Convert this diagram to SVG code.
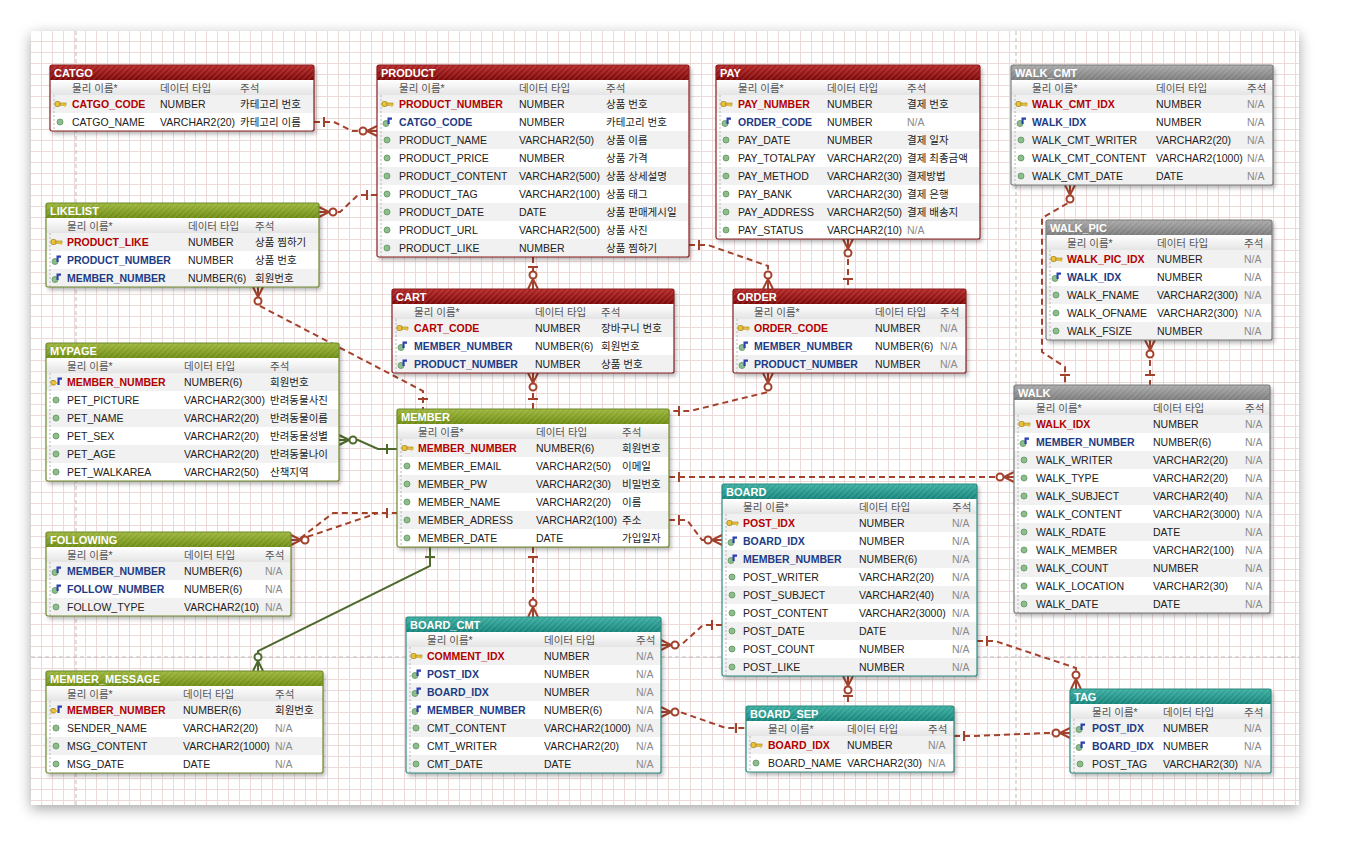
<svg xmlns="http://www.w3.org/2000/svg" width="1361" height="867" viewBox="0 0 1361 867">
<defs>
<style>
text{font-family:"Liberation Sans","Noto Sans CJK KR",sans-serif;font-size:10.5px;fill:#222}
.ttl{fill:#fff;font-weight:bold;font-size:11px}
.hd{fill:#555}
.pk{fill:#b10000;font-weight:bold}
.fk{fill:#1d3c84;font-weight:bold}
.na{fill:#8a8a8a}
.r0{fill:#f1f1f1}
.box{fill:#fff;filter:url(#sh)}
.ld{stroke:#b8b8b8;stroke-width:1;stroke-dasharray:2 2}
.bd{fill:none;stroke-width:1.2}
.red .bd{stroke:#8c2020}.red .tb{fill:url(#g-red)}
.grn .bd{stroke:#6f8a2e}.grn .tb{fill:url(#g-grn)}
.tea .bd{stroke:#2e8b82}.tea .tb{fill:url(#g-tea)}
.gry .bd{stroke:#7d7d7d}.gry .tb{fill:url(#g-gry)}
.hb{fill:url(#hatch)}
.hr{fill:url(#g-hdr)}
.cr{fill:none;stroke:#a3422c;stroke-width:2;stroke-dasharray:6 4}
.cg{fill:none;stroke:#4d6a2c;stroke-width:2}
.sr{stroke:#a3422c;stroke-width:2;fill:none}
.sg{stroke:#4d6a2c;stroke-width:2;fill:none}
.gd{stroke:#bdbdbd;stroke-width:1;stroke-dasharray:4 3;fill:none}
</style>
<filter id="sh" x="-10%" y="-10%" width="130%" height="130%"><feDropShadow dx="2" dy="3" stdDeviation="2" flood-color="#000" flood-opacity="0.3"/></filter>
<filter id="csh" x="-5%" y="-5%" width="110%" height="112%"><feDropShadow dx="0" dy="4" stdDeviation="7" flood-color="#000" flood-opacity="0.35"/></filter>
<pattern id="grid" x="31" y="31" width="11" height="11" patternUnits="userSpaceOnUse"><path d="M10.5,0 V11 M0,10.5 H11" stroke="#eed9d9" stroke-width="1" fill="none"/></pattern>
<pattern id="hatch" width="4" height="4" patternUnits="userSpaceOnUse" patternTransform="rotate(45)"><rect width="1.5" height="4" fill="#fff" fill-opacity="0.13"/></pattern>
<linearGradient id="g-red" x1="0" y1="0" x2="0" y2="1"><stop offset="0" stop-color="#b32525"/><stop offset="1" stop-color="#7c0505"/></linearGradient>
<linearGradient id="g-grn" x1="0" y1="0" x2="0" y2="1"><stop offset="0" stop-color="#9cb53a"/><stop offset="1" stop-color="#6c8a10"/></linearGradient>
<linearGradient id="g-tea" x1="0" y1="0" x2="0" y2="1"><stop offset="0" stop-color="#3aada0"/><stop offset="1" stop-color="#14837a"/></linearGradient>
<linearGradient id="g-gry" x1="0" y1="0" x2="0" y2="1"><stop offset="0" stop-color="#a8a8a8"/><stop offset="1" stop-color="#7a7a7a"/></linearGradient>
<linearGradient id="g-hdr" x1="0" y1="0" x2="0" y2="1"><stop offset="0" stop-color="#ffffff"/><stop offset="1" stop-color="#e4e4e4"/></linearGradient>
<g id="ic-key"><rect x="-5" y="-2.5" width="5" height="5" rx="1.5" fill="#e9c23a" stroke="#a3841c" stroke-width="0.8"/><rect x="0" y="-1" width="6" height="2.2" fill="#e9c23a" stroke="#a3841c" stroke-width="0.6"/><rect x="4" y="0.8" width="1.6" height="2" fill="#e9c23a"/></g>
<g id="ic-col"><circle r="3" fill="#8dbd8d" stroke="#5e935e" stroke-width="0.8"/></g>
<g id="ic-fk"><circle cx="-1" cy="1.5" r="3" fill="#8dbd8d" stroke="#5e935e" stroke-width="0.8"/><path d="M0.5,-4.5 H5 V-2.3 H2.6 V2 H0.5 Z" fill="#2b3fae"/></g>
<g id="ic-pkfk"><rect x="-5" y="-1.5" width="4.5" height="4.5" rx="1.2" fill="#e9c23a" stroke="#a3841c" stroke-width="0.8"/><rect x="-1" y="0" width="4" height="2" fill="#e9c23a"/><path d="M1.5,-4.5 H6 V-2.3 H3.6 V3 H1.5 Z" fill="#2b3fae"/></g>
<g id="mo"><path d="M-10,0 L0,-5 M-10,0 L0,0 M-10,0 L0,5"/><circle cx="-14" cy="0" r="3.5" fill="#fff"/></g>
<g id="one"><path d="M-10,-5 V5"/></g>
</defs>

<rect width="1361" height="867" fill="#fff"/>
<rect x="31" y="31" width="1268" height="774" fill="#fff" filter="url(#csh)"/>
<rect x="31" y="31" width="1268" height="774" fill="url(#grid)"/>
<path class="gd" d="M76,31 V805 M1016,31 V805 M31,657 H1299"/>

<g id="connectors">
<path class="cr" d="M314,122 H334 L352,131 H377"/>
<use href="#one" class="sr" transform="translate(314,122) rotate(180)"/>
<use href="#mo" class="sr" transform="translate(377,131)"/>

<path class="cr" d="M377,195 H358 L340,212 H319"/>
<use href="#one" class="sr" transform="translate(377,195)"/>
<use href="#mo" class="sr" transform="translate(319,212) rotate(180)"/>

<path class="cr" d="M258,287 V305 L423,391 V409"/>
<use href="#mo" class="sr" transform="translate(258,287) rotate(-90)"/>
<use href="#one" class="sr" transform="translate(423,409) rotate(90)"/>

<path class="cr" d="M533,257 V289"/>
<use href="#one" class="sr" transform="translate(533,257) rotate(-90)"/>
<use href="#mo" class="sr" transform="translate(533,289) rotate(90)"/>

<path class="cr" d="M689,245 H708 L768,266 V289"/>
<use href="#one" class="sr" transform="translate(689,245) rotate(180)"/>
<use href="#mo" class="sr" transform="translate(768,289) rotate(90)"/>

<path class="cr" d="M848,239 V289"/>
<use href="#mo" class="sr" transform="translate(848,239) rotate(-90)"/>
<use href="#one" class="sr" transform="translate(848,289) rotate(90)"/>

<path class="cr" d="M533,373 V409"/>
<use href="#mo" class="sr" transform="translate(533,373) rotate(-90)"/>
<use href="#one" class="sr" transform="translate(533,409) rotate(90)"/>

<path class="cr" d="M768,373 V392 L690,411 H669"/>
<use href="#mo" class="sr" transform="translate(768,373) rotate(-90)"/>
<use href="#one" class="sr" transform="translate(669,411) rotate(180)"/>

<path class="cg" d="M339,440 H358 L378,449 H397"/>
<use href="#mo" class="sg" transform="translate(339,440) rotate(180)"/>
<use href="#one" class="sg" transform="translate(397,449)"/>

<path class="cr" d="M291,540 H298 L333,513 H397"/>
<path class="cr" d="M298,540 L378,513"/>
<use href="#mo" class="sr" transform="translate(291,540) rotate(180)"/>
<use href="#one" class="sr" transform="translate(397,513)"/>

<path class="cg" d="M430,547 V566 L258,651 V671"/>
<use href="#one" class="sg" transform="translate(430,547) rotate(-90)"/>
<use href="#mo" class="sg" transform="translate(258,671) rotate(90)"/>

<path class="cr" d="M533,547 V617"/>
<use href="#one" class="sr" transform="translate(533,547) rotate(-90)"/>
<use href="#mo" class="sr" transform="translate(533,617) rotate(90)"/>

<path class="cr" d="M669,477 H1014"/>
<use href="#one" class="sr" transform="translate(669,477) rotate(180)"/>
<use href="#mo" class="sr" transform="translate(1014,477)"/>

<path class="cr" d="M669,520 H687 L702,540 H722"/>
<use href="#one" class="sr" transform="translate(669,520) rotate(180)"/>
<use href="#mo" class="sr" transform="translate(722,540)"/>

<path class="cr" d="M722,625 H703 L681,645 H661"/>
<use href="#one" class="sr" transform="translate(722,625)"/>
<use href="#mo" class="sr" transform="translate(661,645) rotate(180)"/>

<path class="cr" d="M848,676 V706"/>
<use href="#mo" class="sr" transform="translate(848,676) rotate(-90)"/>
<use href="#one" class="sr" transform="translate(848,706) rotate(90)"/>

<path class="cr" d="M977,641 H995 L1076,668 V689"/>
<use href="#one" class="sr" transform="translate(977,641) rotate(180)"/>
<use href="#mo" class="sr" transform="translate(1076,689) rotate(90)"/>

<path class="cr" d="M661,712 H680 L726,728 H746"/>
<use href="#mo" class="sr" transform="translate(661,712) rotate(180)"/>
<use href="#one" class="sr" transform="translate(746,728)"/>

<path class="cr" d="M954,736 H975 L1045,733 H1070"/>
<use href="#one" class="sr" transform="translate(954,736) rotate(180)"/>
<use href="#mo" class="sr" transform="translate(1070,733)"/>

<path class="cr" d="M1070,185 V202 L1042,218 V352 L1065,367 V385"/>
<use href="#mo" class="sr" transform="translate(1070,185) rotate(-90)"/>
<use href="#one" class="sr" transform="translate(1065,385) rotate(90)"/>

<path class="cr" d="M1150,340 V385"/>
<use href="#mo" class="sr" transform="translate(1150,340) rotate(-90)"/>
<use href="#one" class="sr" transform="translate(1150,385) rotate(90)"/>
</g>

<!-- CATGO -->
<g id="CATGO" class="red" transform="translate(50,65)">
<rect class="box" width="264" height="66"/>
<rect class="tb" width="264" height="15"/><rect class="hb" width="264" height="15"/>
<text class="ttl" x="4" y="12">CATGO</text>
<rect class="hr" y="15" width="264" height="15"/>
<text class="hd" x="22" y="27">물리 이름*</text><text class="hd" x="110" y="27">데이터 타입</text><text class="hd" x="190" y="27">주석</text>
<rect class="r0" y="30" width="264" height="18"/>
<line class="ld" x1="4" y1="30" x2="4" y2="66"/>
<use href="#ic-key" x="10" y="39"/><text class="pk" x="22" y="43">CATGO_CODE</text><text x="110" y="43">NUMBER</text><text x="190" y="43">카테고리 번호</text>
<use href="#ic-col" x="10" y="57"/><text x="22" y="61">CATGO_NAME</text><text x="110" y="61">VARCHAR2(20)</text><text x="190" y="61">카테고리 이름</text>
<rect class="bd" width="264" height="66" rx="2"/>
</g>

<!-- PRODUCT -->
<g id="PRODUCT" class="red" transform="translate(377,65)">
<rect class="box" width="312" height="192"/>
<rect class="tb" width="312" height="15"/><rect class="hb" width="312" height="15"/>
<text class="ttl" x="4" y="12">PRODUCT</text>
<rect class="hr" y="15" width="312" height="15"/>
<text class="hd" x="22" y="27">물리 이름*</text><text class="hd" x="142" y="27">데이터 타입</text><text class="hd" x="229" y="27">주석</text>
<rect class="r0" y="30" width="312" height="18"/><rect class="r0" y="66" width="312" height="18"/><rect class="r0" y="102" width="312" height="18"/><rect class="r0" y="138" width="312" height="18"/><rect class="r0" y="174" width="312" height="18"/>
<line class="ld" x1="4" y1="30" x2="4" y2="192"/>
<use href="#ic-key" x="10" y="39"/><text class="pk" x="22" y="43">PRODUCT_NUMBER</text><text x="142" y="43">NUMBER</text><text x="229" y="43">상품 번호</text>
<use href="#ic-fk" x="10" y="57"/><text class="fk" x="22" y="61">CATGO_CODE</text><text x="142" y="61">NUMBER</text><text x="229" y="61">카테고리 번호</text>
<use href="#ic-col" x="10" y="75"/><text x="22" y="79">PRODUCT_NAME</text><text x="142" y="79">VARCHAR2(50)</text><text x="229" y="79">상품 이름</text>
<use href="#ic-col" x="10" y="93"/><text x="22" y="97">PRODUCT_PRICE</text><text x="142" y="97">NUMBER</text><text x="229" y="97">상품 가격</text>
<use href="#ic-col" x="10" y="111"/><text x="22" y="115">PRODUCT_CONTENT</text><text x="142" y="115">VARCHAR2(500)</text><text x="229" y="115">상품 상세설명</text>
<use href="#ic-col" x="10" y="129"/><text x="22" y="133">PRODUCT_TAG</text><text x="142" y="133">VARCHAR2(100)</text><text x="229" y="133">상품 태그</text>
<use href="#ic-col" x="10" y="147"/><text x="22" y="151">PRODUCT_DATE</text><text x="142" y="151">DATE</text><text x="229" y="151">상품 판매게시일</text>
<use href="#ic-col" x="10" y="165"/><text x="22" y="169">PRODUCT_URL</text><text x="142" y="169">VARCHAR2(500)</text><text x="229" y="169">상품 사진</text>
<use href="#ic-col" x="10" y="183"/><text x="22" y="187">PRODUCT_LIKE</text><text x="142" y="187">NUMBER</text><text x="229" y="187">상품 찜하기</text>
<rect class="bd" width="312" height="192" rx="2"/>
</g>

<!-- PAY -->
<g id="PAY" class="red" transform="translate(716,65)">
<rect class="box" width="264" height="174"/>
<rect class="tb" width="264" height="15"/><rect class="hb" width="264" height="15"/>
<text class="ttl" x="4" y="12">PAY</text>
<rect class="hr" y="15" width="264" height="15"/>
<text class="hd" x="22" y="27">물리 이름*</text><text class="hd" x="111" y="27">데이터 타입</text><text class="hd" x="191" y="27">주석</text>
<rect class="r0" y="30" width="264" height="18"/><rect class="r0" y="66" width="264" height="18"/><rect class="r0" y="102" width="264" height="18"/><rect class="r0" y="138" width="264" height="18"/>
<line class="ld" x1="4" y1="30" x2="4" y2="174"/>
<use href="#ic-key" x="10" y="39"/><text class="pk" x="22" y="43">PAY_NUMBER</text><text x="111" y="43">NUMBER</text><text x="191" y="43">결제 번호</text>
<use href="#ic-fk" x="10" y="57"/><text class="fk" x="22" y="61">ORDER_CODE</text><text x="111" y="61">NUMBER</text><text class="na" x="191" y="61">N/A</text>
<use href="#ic-col" x="10" y="75"/><text x="22" y="79">PAY_DATE</text><text x="111" y="79">NUMBER</text><text x="191" y="79">결제 일자</text>
<use href="#ic-col" x="10" y="93"/><text x="22" y="97">PAY_TOTALPAY</text><text x="111" y="97">VARCHAR2(20)</text><text x="191" y="97">결제 최종금액</text>
<use href="#ic-col" x="10" y="111"/><text x="22" y="115">PAY_METHOD</text><text x="111" y="115">VARCHAR2(30)</text><text x="191" y="115">결제방법</text>
<use href="#ic-col" x="10" y="129"/><text x="22" y="133">PAY_BANK</text><text x="111" y="133">VARCHAR2(30)</text><text x="191" y="133">결제 은행</text>
<use href="#ic-col" x="10" y="147"/><text x="22" y="151">PAY_ADDRESS</text><text x="111" y="151">VARCHAR2(50)</text><text x="191" y="151">결제 배송지</text>
<use href="#ic-col" x="10" y="165"/><text x="22" y="169">PAY_STATUS</text><text x="111" y="169">VARCHAR2(10)</text><text class="na" x="191" y="169">N/A</text>
<rect class="bd" width="264" height="174" rx="2"/>
</g>

<!-- WALK_CMT -->
<g id="WALK_CMT" class="gry" transform="translate(1011,65)">
<rect class="box" width="262" height="120"/>
<rect class="tb" width="262" height="15"/><rect class="hb" width="262" height="15"/>
<text class="ttl" x="4" y="12">WALK_CMT</text>
<rect class="hr" y="15" width="262" height="15"/>
<text class="hd" x="21" y="27">물리 이름*</text><text class="hd" x="145" y="27">데이터 타입</text><text class="hd" x="236" y="27">주석</text>
<rect class="r0" y="30" width="262" height="18"/><rect class="r0" y="66" width="262" height="18"/><rect class="r0" y="102" width="262" height="18"/>
<line class="ld" x1="4" y1="30" x2="4" y2="120"/>
<use href="#ic-key" x="10" y="39"/><text class="pk" x="21" y="43">WALK_CMT_IDX</text><text x="145" y="43">NUMBER</text><text class="na" x="236" y="43">N/A</text>
<use href="#ic-fk" x="10" y="57"/><text class="fk" x="21" y="61">WALK_IDX</text><text x="145" y="61">NUMBER</text><text class="na" x="236" y="61">N/A</text>
<use href="#ic-col" x="10" y="75"/><text x="21" y="79">WALK_CMT_WRITER</text><text x="145" y="79">VARCHAR2(20)</text><text class="na" x="236" y="79">N/A</text>
<use href="#ic-col" x="10" y="93"/><text x="21" y="97">WALK_CMT_CONTENT</text><text x="145" y="97">VARCHAR2(1000)</text><text class="na" x="236" y="97">N/A</text>
<use href="#ic-col" x="10" y="111"/><text x="21" y="115">WALK_CMT_DATE</text><text x="145" y="115">DATE</text><text class="na" x="236" y="115">N/A</text>
<rect class="bd" width="262" height="120" rx="2"/>
</g>

<!-- LIKELIST -->
<g id="LIKELIST" class="grn" transform="translate(46,203)">
<rect class="box" width="273" height="84"/>
<rect class="tb" width="273" height="15"/><rect class="hb" width="273" height="15"/>
<text class="ttl" x="4" y="12">LIKELIST</text>
<rect class="hr" y="15" width="273" height="15"/>
<text class="hd" x="21" y="27">물리 이름*</text><text class="hd" x="142" y="27">데이터 타입</text><text class="hd" x="209" y="27">주석</text>
<rect class="r0" y="30" width="273" height="18"/><rect class="r0" y="66" width="273" height="18"/>
<line class="ld" x1="4" y1="30" x2="4" y2="84"/>
<use href="#ic-key" x="10" y="39"/><text class="pk" x="21" y="43">PRODUCT_LIKE</text><text x="142" y="43">NUMBER</text><text x="209" y="43">상품 찜하기</text>
<use href="#ic-fk" x="10" y="57"/><text class="fk" x="21" y="61">PRODUCT_NUMBER</text><text x="142" y="61">NUMBER</text><text x="209" y="61">상품 번호</text>
<use href="#ic-fk" x="10" y="75"/><text class="fk" x="21" y="79">MEMBER_NUMBER</text><text x="142" y="79">NUMBER(6)</text><text x="209" y="79">회원번호</text>
<rect class="bd" width="273" height="84" rx="2"/>
</g>

<!-- WALK_PIC -->
<g id="WALK_PIC" class="gry" transform="translate(1046,220)">
<rect class="box" width="226" height="120"/>
<rect class="tb" width="226" height="15"/><rect class="hb" width="226" height="15"/>
<text class="ttl" x="4" y="12">WALK_PIC</text>
<rect class="hr" y="15" width="226" height="15"/>
<text class="hd" x="21" y="27">물리 이름*</text><text class="hd" x="111" y="27">데이터 타입</text><text class="hd" x="198" y="27">주석</text>
<rect class="r0" y="30" width="226" height="18"/><rect class="r0" y="66" width="226" height="18"/><rect class="r0" y="102" width="226" height="18"/>
<line class="ld" x1="4" y1="30" x2="4" y2="120"/>
<use href="#ic-key" x="10" y="39"/><text class="pk" x="21" y="43">WALK_PIC_IDX</text><text x="111" y="43">NUMBER</text><text class="na" x="198" y="43">N/A</text>
<use href="#ic-fk" x="10" y="57"/><text class="fk" x="21" y="61">WALK_IDX</text><text x="111" y="61">NUMBER</text><text class="na" x="198" y="61">N/A</text>
<use href="#ic-col" x="10" y="75"/><text x="21" y="79">WALK_FNAME</text><text x="111" y="79">VARCHAR2(300)</text><text class="na" x="198" y="79">N/A</text>
<use href="#ic-col" x="10" y="93"/><text x="21" y="97">WALK_OFNAME</text><text x="111" y="97">VARCHAR2(300)</text><text class="na" x="198" y="97">N/A</text>
<use href="#ic-col" x="10" y="111"/><text x="21" y="115">WALK_FSIZE</text><text x="111" y="115">NUMBER</text><text class="na" x="198" y="115">N/A</text>
<rect class="bd" width="226" height="120" rx="2"/>
</g>

<!-- CART -->
<g id="CART" class="red" transform="translate(392,289)">
<rect class="box" width="282" height="84"/>
<rect class="tb" width="282" height="15"/><rect class="hb" width="282" height="15"/>
<text class="ttl" x="4" y="12">CART</text>
<rect class="hr" y="15" width="282" height="15"/>
<text class="hd" x="22" y="27">물리 이름*</text><text class="hd" x="143" y="27">데이터 타입</text><text class="hd" x="209" y="27">주석</text>
<rect class="r0" y="30" width="282" height="18"/><rect class="r0" y="66" width="282" height="18"/>
<line class="ld" x1="4" y1="30" x2="4" y2="84"/>
<use href="#ic-key" x="10" y="39"/><text class="pk" x="22" y="43">CART_CODE</text><text x="143" y="43">NUMBER</text><text x="209" y="43">장바구니 번호</text>
<use href="#ic-fk" x="10" y="57"/><text class="fk" x="22" y="61">MEMBER_NUMBER</text><text x="143" y="61">NUMBER(6)</text><text x="209" y="61">회원번호</text>
<use href="#ic-fk" x="10" y="75"/><text class="fk" x="22" y="79">PRODUCT_NUMBER</text><text x="143" y="79">NUMBER</text><text x="209" y="79">상품 번호</text>
<rect class="bd" width="282" height="84" rx="2"/>
</g>

<!-- ORDER -->
<g id="ORDER" class="red" transform="translate(733,289)">
<rect class="box" width="233" height="84"/>
<rect class="tb" width="233" height="15"/><rect class="hb" width="233" height="15"/>
<text class="ttl" x="4" y="12">ORDER</text>
<rect class="hr" y="15" width="233" height="15"/>
<text class="hd" x="21" y="27">물리 이름*</text><text class="hd" x="142" y="27">데이터 타입</text><text class="hd" x="207" y="27">주석</text>
<rect class="r0" y="30" width="233" height="18"/><rect class="r0" y="66" width="233" height="18"/>
<line class="ld" x1="4" y1="30" x2="4" y2="84"/>
<use href="#ic-key" x="10" y="39"/><text class="pk" x="21" y="43">ORDER_CODE</text><text x="142" y="43">NUMBER</text><text class="na" x="207" y="43">N/A</text>
<use href="#ic-fk" x="10" y="57"/><text class="fk" x="21" y="61">MEMBER_NUMBER</text><text x="142" y="61">NUMBER(6)</text><text class="na" x="207" y="61">N/A</text>
<use href="#ic-fk" x="10" y="75"/><text class="fk" x="21" y="79">PRODUCT_NUMBER</text><text x="142" y="79">NUMBER</text><text class="na" x="207" y="79">N/A</text>
<rect class="bd" width="233" height="84" rx="2"/>
</g>

<!-- MYPAGE -->
<g id="MYPAGE" class="grn" transform="translate(46,343)">
<rect class="box" width="293" height="138"/>
<rect class="tb" width="293" height="15"/><rect class="hb" width="293" height="15"/>
<text class="ttl" x="4" y="12">MYPAGE</text>
<rect class="hr" y="15" width="293" height="15"/>
<text class="hd" x="21" y="27">물리 이름*</text><text class="hd" x="138" y="27">데이터 타입</text><text class="hd" x="224" y="27">주석</text>
<rect class="r0" y="30" width="293" height="18"/><rect class="r0" y="66" width="293" height="18"/><rect class="r0" y="102" width="293" height="18"/>
<line class="ld" x1="4" y1="30" x2="4" y2="138"/>
<use href="#ic-pkfk" x="10" y="39"/><text class="pk" x="21" y="43">MEMBER_NUMBER</text><text x="138" y="43">NUMBER(6)</text><text x="224" y="43">회원번호</text>
<use href="#ic-col" x="10" y="57"/><text x="21" y="61">PET_PICTURE</text><text x="138" y="61">VARCHAR2(300)</text><text x="224" y="61">반려동물사진</text>
<use href="#ic-col" x="10" y="75"/><text x="21" y="79">PET_NAME</text><text x="138" y="79">VARCHAR2(20)</text><text x="224" y="79">반려동물이름</text>
<use href="#ic-col" x="10" y="93"/><text x="21" y="97">PET_SEX</text><text x="138" y="97">VARCHAR2(20)</text><text x="224" y="97">반려동물성별</text>
<use href="#ic-col" x="10" y="111"/><text x="21" y="115">PET_AGE</text><text x="138" y="115">VARCHAR2(20)</text><text x="224" y="115">반려동물나이</text>
<use href="#ic-col" x="10" y="129"/><text x="21" y="133">PET_WALKAREA</text><text x="138" y="133">VARCHAR2(50)</text><text x="224" y="133">산책지역</text>
<rect class="bd" width="293" height="138" rx="2"/>
</g>

<!-- WALK -->
<g id="WALK" class="gry" transform="translate(1014,385)">
<rect class="box" width="256" height="228"/>
<rect class="tb" width="256" height="15"/><rect class="hb" width="256" height="15"/>
<text class="ttl" x="4" y="12">WALK</text>
<rect class="hr" y="15" width="256" height="15"/>
<text class="hd" x="22" y="27">물리 이름*</text><text class="hd" x="139" y="27">데이터 타입</text><text class="hd" x="231" y="27">주석</text>
<rect class="r0" y="30" width="256" height="18"/><rect class="r0" y="66" width="256" height="18"/><rect class="r0" y="102" width="256" height="18"/><rect class="r0" y="138" width="256" height="18"/><rect class="r0" y="174" width="256" height="18"/><rect class="r0" y="210" width="256" height="18"/>
<line class="ld" x1="4" y1="30" x2="4" y2="228"/>
<use href="#ic-key" x="10" y="39"/><text class="pk" x="22" y="43">WALK_IDX</text><text x="139" y="43">NUMBER</text><text class="na" x="231" y="43">N/A</text>
<use href="#ic-fk" x="10" y="57"/><text class="fk" x="22" y="61">MEMBER_NUMBER</text><text x="139" y="61">NUMBER(6)</text><text class="na" x="231" y="61">N/A</text>
<use href="#ic-col" x="10" y="75"/><text x="22" y="79">WALK_WRITER</text><text x="139" y="79">VARCHAR2(20)</text><text class="na" x="231" y="79">N/A</text>
<use href="#ic-col" x="10" y="93"/><text x="22" y="97">WALK_TYPE</text><text x="139" y="97">VARCHAR2(20)</text><text class="na" x="231" y="97">N/A</text>
<use href="#ic-col" x="10" y="111"/><text x="22" y="115">WALK_SUBJECT</text><text x="139" y="115">VARCHAR2(40)</text><text class="na" x="231" y="115">N/A</text>
<use href="#ic-col" x="10" y="129"/><text x="22" y="133">WALK_CONTENT</text><text x="139" y="133">VARCHAR2(3000)</text><text class="na" x="231" y="133">N/A</text>
<use href="#ic-col" x="10" y="147"/><text x="22" y="151">WALK_RDATE</text><text x="139" y="151">DATE</text><text class="na" x="231" y="151">N/A</text>
<use href="#ic-col" x="10" y="165"/><text x="22" y="169">WALK_MEMBER</text><text x="139" y="169">VARCHAR2(100)</text><text class="na" x="231" y="169">N/A</text>
<use href="#ic-col" x="10" y="183"/><text x="22" y="187">WALK_COUNT</text><text x="139" y="187">NUMBER</text><text class="na" x="231" y="187">N/A</text>
<use href="#ic-col" x="10" y="201"/><text x="22" y="205">WALK_LOCATION</text><text x="139" y="205">VARCHAR2(30)</text><text class="na" x="231" y="205">N/A</text>
<use href="#ic-col" x="10" y="219"/><text x="22" y="223">WALK_DATE</text><text x="139" y="223">DATE</text><text class="na" x="231" y="223">N/A</text>
<rect class="bd" width="256" height="228" rx="2"/>
</g>

<!-- MEMBER -->
<g id="MEMBER" class="grn" transform="translate(397,409)">
<rect class="box" width="272" height="138"/>
<rect class="tb" width="272" height="15"/><rect class="hb" width="272" height="15"/>
<text class="ttl" x="4" y="12">MEMBER</text>
<rect class="hr" y="15" width="272" height="15"/>
<text class="hd" x="21" y="27">물리 이름*</text><text class="hd" x="139" y="27">데이터 타입</text><text class="hd" x="225" y="27">주석</text>
<rect class="r0" y="30" width="272" height="18"/><rect class="r0" y="66" width="272" height="18"/><rect class="r0" y="102" width="272" height="18"/>
<line class="ld" x1="4" y1="30" x2="4" y2="138"/>
<use href="#ic-key" x="10" y="39"/><text class="pk" x="21" y="43">MEMBER_NUMBER</text><text x="139" y="43">NUMBER(6)</text><text x="225" y="43">회원번호</text>
<use href="#ic-col" x="10" y="57"/><text x="21" y="61">MEMBER_EMAIL</text><text x="139" y="61">VARCHAR2(50)</text><text x="225" y="61">이메일</text>
<use href="#ic-col" x="10" y="75"/><text x="21" y="79">MEMBER_PW</text><text x="139" y="79">VARCHAR2(30)</text><text x="225" y="79">비밀번호</text>
<use href="#ic-col" x="10" y="93"/><text x="21" y="97">MEMBER_NAME</text><text x="139" y="97">VARCHAR2(20)</text><text x="225" y="97">이름</text>
<use href="#ic-col" x="10" y="111"/><text x="21" y="115">MEMBER_ADRESS</text><text x="139" y="115">VARCHAR2(100)</text><text x="225" y="115">주소</text>
<use href="#ic-col" x="10" y="129"/><text x="21" y="133">MEMBER_DATE</text><text x="139" y="133">DATE</text><text x="225" y="133">가입일자</text>
<rect class="bd" width="272" height="138" rx="2"/>
</g>

<!-- BOARD -->
<g id="BOARD" class="tea" transform="translate(722,484)">
<rect class="box" width="255" height="192"/>
<rect class="tb" width="255" height="15"/><rect class="hb" width="255" height="15"/>
<text class="ttl" x="4" y="12">BOARD</text>
<rect class="hr" y="15" width="255" height="15"/>
<text class="hd" x="21" y="27">물리 이름*</text><text class="hd" x="137" y="27">데이터 타입</text><text class="hd" x="230" y="27">주석</text>
<rect class="r0" y="30" width="255" height="18"/><rect class="r0" y="66" width="255" height="18"/><rect class="r0" y="102" width="255" height="18"/><rect class="r0" y="138" width="255" height="18"/><rect class="r0" y="174" width="255" height="18"/>
<line class="ld" x1="4" y1="30" x2="4" y2="192"/>
<use href="#ic-key" x="10" y="39"/><text class="pk" x="21" y="43">POST_IDX</text><text x="137" y="43">NUMBER</text><text class="na" x="230" y="43">N/A</text>
<use href="#ic-fk" x="10" y="57"/><text class="fk" x="21" y="61">BOARD_IDX</text><text x="137" y="61">NUMBER</text><text class="na" x="230" y="61">N/A</text>
<use href="#ic-fk" x="10" y="75"/><text class="fk" x="21" y="79">MEMBER_NUMBER</text><text x="137" y="79">NUMBER(6)</text><text class="na" x="230" y="79">N/A</text>
<use href="#ic-col" x="10" y="93"/><text x="21" y="97">POST_WRITER</text><text x="137" y="97">VARCHAR2(20)</text><text class="na" x="230" y="97">N/A</text>
<use href="#ic-col" x="10" y="111"/><text x="21" y="115">POST_SUBJECT</text><text x="137" y="115">VARCHAR2(40)</text><text class="na" x="230" y="115">N/A</text>
<use href="#ic-col" x="10" y="129"/><text x="21" y="133">POST_CONTENT</text><text x="137" y="133">VARCHAR2(3000)</text><text class="na" x="230" y="133">N/A</text>
<use href="#ic-col" x="10" y="147"/><text x="21" y="151">POST_DATE</text><text x="137" y="151">DATE</text><text class="na" x="230" y="151">N/A</text>
<use href="#ic-col" x="10" y="165"/><text x="21" y="169">POST_COUNT</text><text x="137" y="169">NUMBER</text><text class="na" x="230" y="169">N/A</text>
<use href="#ic-col" x="10" y="183"/><text x="21" y="187">POST_LIKE</text><text x="137" y="187">NUMBER</text><text class="na" x="230" y="187">N/A</text>
<rect class="bd" width="255" height="192" rx="2"/>
</g>

<!-- FOLLOWING -->
<g id="FOLLOWING" class="grn" transform="translate(46,532)">
<rect class="box" width="245" height="84"/>
<rect class="tb" width="245" height="15"/><rect class="hb" width="245" height="15"/>
<text class="ttl" x="4" y="12">FOLLOWING</text>
<rect class="hr" y="15" width="245" height="15"/>
<text class="hd" x="21" y="27">물리 이름*</text><text class="hd" x="138" y="27">데이터 타입</text><text class="hd" x="219" y="27">주석</text>
<rect class="r0" y="30" width="245" height="18"/><rect class="r0" y="66" width="245" height="18"/>
<line class="ld" x1="4" y1="30" x2="4" y2="84"/>
<use href="#ic-fk" x="10" y="39"/><text class="fk" x="21" y="43">MEMBER_NUMBER</text><text x="138" y="43">NUMBER(6)</text><text class="na" x="219" y="43">N/A</text>
<use href="#ic-fk" x="10" y="57"/><text class="fk" x="21" y="61">FOLLOW_NUMBER</text><text x="138" y="61">NUMBER(6)</text><text class="na" x="219" y="61">N/A</text>
<use href="#ic-col" x="10" y="75"/><text x="21" y="79">FOLLOW_TYPE</text><text x="138" y="79">VARCHAR2(10)</text><text class="na" x="219" y="79">N/A</text>
<rect class="bd" width="245" height="84" rx="2"/>
</g>

<!-- BOARD_CMT -->
<g id="BOARD_CMT" class="tea" transform="translate(406,617)">
<rect class="box" width="255" height="156"/>
<rect class="tb" width="255" height="15"/><rect class="hb" width="255" height="15"/>
<text class="ttl" x="4" y="12">BOARD_CMT</text>
<rect class="hr" y="15" width="255" height="15"/>
<text class="hd" x="21" y="27">물리 이름*</text><text class="hd" x="138" y="27">데이터 타입</text><text class="hd" x="230" y="27">주석</text>
<rect class="r0" y="30" width="255" height="18"/><rect class="r0" y="66" width="255" height="18"/><rect class="r0" y="102" width="255" height="18"/><rect class="r0" y="138" width="255" height="18"/>
<line class="ld" x1="4" y1="30" x2="4" y2="156"/>
<use href="#ic-key" x="10" y="39"/><text class="pk" x="21" y="43">COMMENT_IDX</text><text x="138" y="43">NUMBER</text><text class="na" x="230" y="43">N/A</text>
<use href="#ic-fk" x="10" y="57"/><text class="fk" x="21" y="61">POST_IDX</text><text x="138" y="61">NUMBER</text><text class="na" x="230" y="61">N/A</text>
<use href="#ic-fk" x="10" y="75"/><text class="fk" x="21" y="79">BOARD_IDX</text><text x="138" y="79">NUMBER</text><text class="na" x="230" y="79">N/A</text>
<use href="#ic-fk" x="10" y="93"/><text class="fk" x="21" y="97">MEMBER_NUMBER</text><text x="138" y="97">NUMBER(6)</text><text class="na" x="230" y="97">N/A</text>
<use href="#ic-col" x="10" y="111"/><text x="21" y="115">CMT_CONTENT</text><text x="138" y="115">VARCHAR2(1000)</text><text class="na" x="230" y="115">N/A</text>
<use href="#ic-col" x="10" y="129"/><text x="21" y="133">CMT_WRITER</text><text x="138" y="133">VARCHAR2(20)</text><text class="na" x="230" y="133">N/A</text>
<use href="#ic-col" x="10" y="147"/><text x="21" y="151">CMT_DATE</text><text x="138" y="151">DATE</text><text class="na" x="230" y="151">N/A</text>
<rect class="bd" width="255" height="156" rx="2"/>
</g>

<!-- MEMBER_MESSAGE -->
<g id="MEMBER_MESSAGE" class="grn" transform="translate(46,671)">
<rect class="box" width="277" height="102"/>
<rect class="tb" width="277" height="15"/><rect class="hb" width="277" height="15"/>
<text class="ttl" x="4" y="12">MEMBER_MESSAGE</text>
<rect class="hr" y="15" width="277" height="15"/>
<text class="hd" x="21" y="27">물리 이름*</text><text class="hd" x="137" y="27">데이터 타입</text><text class="hd" x="229" y="27">주석</text>
<rect class="r0" y="30" width="277" height="18"/><rect class="r0" y="66" width="277" height="18"/>
<line class="ld" x1="4" y1="30" x2="4" y2="102"/>
<use href="#ic-pkfk" x="10" y="39"/><text class="pk" x="21" y="43">MEMBER_NUMBER</text><text x="137" y="43">NUMBER(6)</text><text x="229" y="43">회원번호</text>
<use href="#ic-col" x="10" y="57"/><text x="21" y="61">SENDER_NAME</text><text x="137" y="61">VARCHAR2(20)</text><text class="na" x="229" y="61">N/A</text>
<use href="#ic-col" x="10" y="75"/><text x="21" y="79">MSG_CONTENT</text><text x="137" y="79">VARCHAR2(1000)</text><text class="na" x="229" y="79">N/A</text>
<use href="#ic-col" x="10" y="93"/><text x="21" y="97">MSG_DATE</text><text x="137" y="97">DATE</text><text class="na" x="229" y="97">N/A</text>
<rect class="bd" width="277" height="102" rx="2"/>
</g>

<!-- BOARD_SEP -->
<g id="BOARD_SEP" class="tea" transform="translate(746,706)">
<rect class="box" width="208" height="66"/>
<rect class="tb" width="208" height="15"/><rect class="hb" width="208" height="15"/>
<text class="ttl" x="4" y="12">BOARD_SEP</text>
<rect class="hr" y="15" width="208" height="15"/>
<text class="hd" x="22" y="27">물리 이름*</text><text class="hd" x="101" y="27">데이터 타입</text><text class="hd" x="182" y="27">주석</text>
<rect class="r0" y="30" width="208" height="18"/>
<line class="ld" x1="4" y1="30" x2="4" y2="66"/>
<use href="#ic-key" x="10" y="39"/><text class="pk" x="22" y="43">BOARD_IDX</text><text x="101" y="43">NUMBER</text><text class="na" x="182" y="43">N/A</text>
<use href="#ic-col" x="10" y="57"/><text x="22" y="61">BOARD_NAME</text><text x="101" y="61">VARCHAR2(30)</text><text class="na" x="182" y="61">N/A</text>
<rect class="bd" width="208" height="66" rx="2"/>
</g>

<!-- TAG -->
<g id="TAG" class="tea" transform="translate(1070,689)">
<rect class="box" width="201" height="84"/>
<rect class="tb" width="201" height="15"/><rect class="hb" width="201" height="15"/>
<text class="ttl" x="4" y="12">TAG</text>
<rect class="hr" y="15" width="201" height="15"/>
<text class="hd" x="22" y="27">물리 이름*</text><text class="hd" x="93" y="27">데이터 타입</text><text class="hd" x="174" y="27">주석</text>
<rect class="r0" y="30" width="201" height="18"/><rect class="r0" y="66" width="201" height="18"/>
<line class="ld" x1="4" y1="30" x2="4" y2="84"/>
<use href="#ic-fk" x="10" y="39"/><text class="fk" x="22" y="43">POST_IDX</text><text x="93" y="43">NUMBER</text><text class="na" x="174" y="43">N/A</text>
<use href="#ic-fk" x="10" y="57"/><text class="fk" x="22" y="61">BOARD_IDX</text><text x="93" y="61">NUMBER</text><text class="na" x="174" y="61">N/A</text>
<use href="#ic-col" x="10" y="75"/><text x="22" y="79">POST_TAG</text><text x="93" y="79">VARCHAR2(30)</text><text class="na" x="174" y="79">N/A</text>
<rect class="bd" width="201" height="84" rx="2"/>
</g>
</svg>
